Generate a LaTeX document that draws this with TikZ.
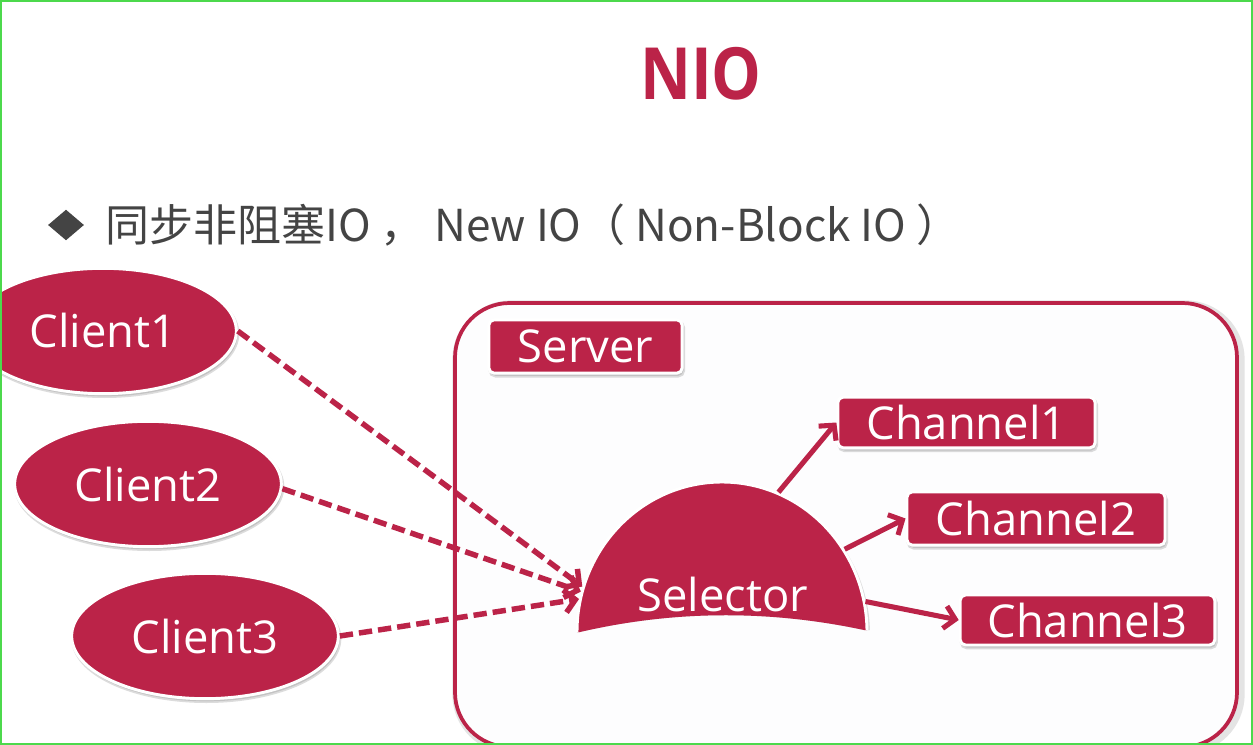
\documentclass[tikz,border=0pt]{standalone}
\usepackage{fontspec}
\setmainfont{Open Sans}
\newfontfamily\cjkfont{Noto Sans CJK SC}
\newfontfamily\titlefont{Open Sans}
\usetikzlibrary{arrows.meta,shapes.geometric,shadows}
\definecolor{crim}{RGB}{187,35,72}
\definecolor{txtgray}{RGB}{68,68,68}
\definecolor{framegreen}{RGB}{76,217,76}
\definecolor{boxbg}{RGB}{253,253,254}
\begin{document}
\begin{tikzpicture}[x=0.75pt,y=-0.75pt,
  lbl/.style={font=\fontsize{34}{40}\selectfont, text=white},
  softshadow/.style={drop shadow={shadow xshift=1pt, shadow yshift=-2pt, opacity=0.3, fill=black!45, draw=black!45, line width=2.5pt}},
  clientell/.style={ellipse, fill=crim, draw=white, line width=2.2pt, minimum width=200pt, minimum height=94pt, inner sep=0pt, lbl, softshadow},
  redbox/.style={rectangle, rounded corners=4pt, fill=crim, draw=white, line width=2.2pt, inner sep=0pt, lbl, softshadow},
  dasharr/.style={draw=crim, line width=4.1pt, dash pattern=on 10pt off 4.5pt, -{Straight Barb[length=8pt,width=17pt]}},
  solarr/.style={draw=crim, line width=3.8pt, -{Straight Barb[length=8pt,width=17pt]}}
]
\fill[white] (0,0) rectangle (1253,745);
\useasboundingbox (0,0) rectangle (1253,745);

% title and subtitle
\node[text=crim, font=\titlefont\bfseries\fontsize{54}{60}\selectfont, inner sep=0pt] (title) at (701,74) {\scalebox{0.87}[1]{NIO}};
\node[diamond, fill=txtgray, minimum width=27pt, minimum height=23pt, inner sep=0pt] (bullet) at (66,225) {};
\node[anchor=base west, text=txtgray, font=\cjkfont\fontsize{33}{38}\selectfont, inner sep=0pt] (sub) at (105,242) {同步非阻塞IO ， New IO（ Non-Block IO ）};

% server box
\draw[black!35, opacity=0.3, line width=7pt, rounded corners=41pt] (457,305) rectangle (1240,749);
\draw[crim, fill=boxbg, line width=2.8pt, rounded corners=41pt] (455,303) rectangle (1237,747);

% clients
\node[clientell] (c1) at (103,331) {Client1};
\node[clientell] (c2) at (148,484) {Client2};
\node[clientell] (c3) at (205,636) {Client3};

% server label and channels
\node[redbox, minimum width=145pt, minimum height=40pt] (server) at (585.5,346.5) {Server};
\node[redbox, minimum width=193pt, minimum height=38pt] (ch1) at (966.5,422.5) {Channel1};
\node[redbox, minimum width=193.5pt, minimum height=40pt] (ch2) at (1036,518.5) {Channel2};
\node[redbox, minimum width=191pt, minimum height=37.5pt] (ch3) at (1087.5,620) {Channel3};

% selector (cut off at the bottom)
\begin{scope}
  \clip (560,470) -- (890,470) -- (890,630) -- (864,630) .. controls (770,610) and (675,610) .. (580,632) -- (560,632) -- cycle;
  \node[ellipse, fill=crim, draw=white, line width=2.2pt, minimum width=217.5pt, minimum height=225pt, inner sep=0pt, softshadow] (sel) at (722,632) {};
\end{scope}
\node[lbl, inner sep=0pt] (seltext) at (723,594) {Selector};

% connectors
\draw[dasharr] (c1.east) -- (sel.162);
\draw[dasharr] (c2.-2) -- (sel.164);
\draw[dasharr] (c3.east) -- (sel.167);
\draw[solarr] (sel.68) -- (ch1.west);
\draw[solarr] (sel.34) -- (ch2.west);
\draw[solarr] (sel.12) -- (ch3.west);

% outer frame
\draw[framegreen, line width=1.5pt] (1,1) rectangle (1252,744);
\end{tikzpicture}
\end{document}
